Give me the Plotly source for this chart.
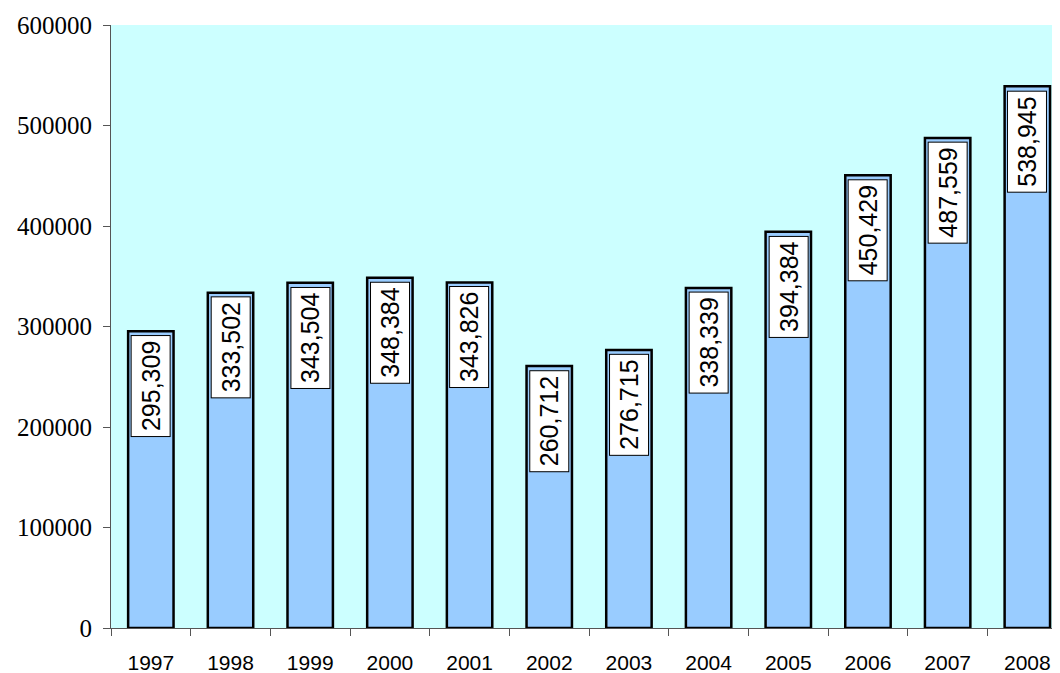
import plotly.graph_objects as go

# Data
years = ["1997", "1998", "1999", "2000", "2001", "2002",
         "2003", "2004", "2005", "2006", "2007", "2008"]
values = [295309, 333502, 343504, 348384, 343826, 260712,
          276715, 338339, 394384, 450429, 487559, 538945]
y_ticks = [0, 100000, 200000, 300000, 400000, 500000, 600000]

fig = go.Figure()

fig.add_trace(go.Bar(
    x=years,
    y=values,
    width=0.57,
    marker=dict(color="#99CCFF", line=dict(color="black", width=2.5)),
    hoverinfo="x+y",
))

# Value labels: rotated, in white boxes near the top of each bar
# (category axis -> annotation x is the category index)
for i, v in enumerate(values):
    fig.add_annotation(
        x=i, y=v, text=f"{v:,}",
        textangle=-90,
        showarrow=False,
        xref="x", yref="y",
        yanchor="top", yshift=-4,
        font=dict(family="Liberation Sans, Arial, sans-serif", size=25, color="black"),
        bgcolor="white", bordercolor="black", borderwidth=1, borderpad=5,
    )

# page body has an 8px margin, so the figure is offset by 8px
fig.update_layout(
    width=1052, height=665,
    margin=dict(l=103, r=0, t=17, b=45),
    paper_bgcolor="white",
    plot_bgcolor="#CCFFFF",
    showlegend=False,
)

fig.update_xaxes(
    type="category",
    range=[-0.5, 11.41],
    showgrid=False,
    showline=True, linecolor="#555555", linewidth=1,
    ticks="outside", tickson="boundaries", ticklen=7, tickcolor="#555555",
    tickfont=dict(family="Liberation Sans, Arial, sans-serif", size=21, color="black"),
    ticklabelstandoff=16,
)

fig.update_yaxes(
    range=[0, 600000],
    tickvals=y_ticks,
    ticktext=[str(t) for t in y_ticks],
    showgrid=False,
    showline=True, linecolor="#555555", linewidth=1,
    ticks="outside", ticklen=7, tickcolor="#555555",
    tickfont=dict(family="Liberation Serif", size=25, color="black"),
    ticklabelstandoff=6,
    zeroline=False,
)

fig.write_html("out.html")
